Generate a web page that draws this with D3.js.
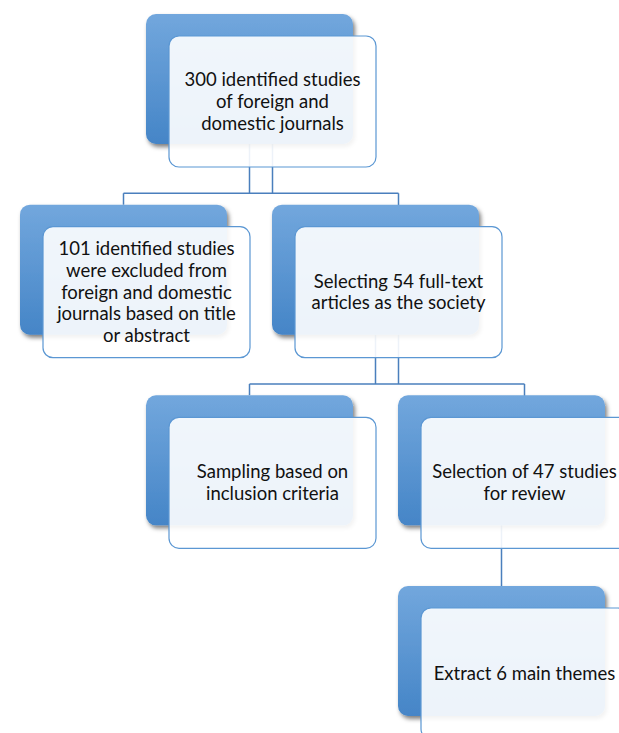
<!DOCTYPE html>
<html>
<head>
<meta charset="utf-8">
<script src="https://cdn.jsdelivr.net/npm/d3@7"></script>
<style>
  body { margin: 0; background: #fff; }
  text { font-family: Lato, "Open Sans", sans-serif; }
</style>
</head>
<body>
<div id="chart"></div>
<script>
// node labels, already broken into lines as in the figure
var labels = [
  ["300 identified studies", "of foreign and", "domestic journals"],
  ["101 identified studies", "were excluded from", "foreign and domestic", "journals based on title", "or abstract"],
  ["Selecting 54 full-text", "articles as the society"],
  ["Sampling based on", "inclusion criteria"],
  ["Selection of 47 studies", "for review"],
  ["Extract 6 main themes"]
];
// tree layout: level (row), column slot, parent index
var levels = [0, 1, 1, 2, 2, 3];
var columns = [1, 0, 2, 1, 3, 3];
var parents = [-1, 0, 0, 2, 2, 4];

var width = 619, height = 733;
var boxW = 207, boxH = 130, offX = 23, offY = 22;

// column slot -> left edge of the back box, level -> top edge of the back box
var x = d3.scaleLinear().domain([0, 3]).range([20, 398]);
var y = d3.scaleLinear().domain([0, 3]).range([14, 586]);

var svg = d3.select("#chart").append("svg")
    .attr("width", width)
    .attr("height", height);

var defs = svg.append("defs");
var grad = defs.append("linearGradient")
    .attr("id", "blueGrad")
    .attr("x1", 0).attr("y1", 0).attr("x2", 0).attr("y2", 1);
grad.append("stop").attr("offset", "0%").attr("stop-color", "#72a7dd");
grad.append("stop").attr("offset", "100%").attr("stop-color", "#4585c7");

var shadow = defs.append("filter").attr("id", "shadow")
    .attr("x", "-10%").attr("y", "-10%").attr("width", "130%").attr("height", "130%");
shadow.append("feDropShadow")
    .attr("dx", 2).attr("dy", 3).attr("stdDeviation", 2.2)
    .attr("flood-color", "#000").attr("flood-opacity", 0.5);

var nodes = labels.map(function (l, i) {
  return { id: i, lines: l, level: levels[i], col: columns[i], parent: parents[i] };
});

function backX(d) { return x(d.col); }
function backY(d) { return y(d.level); }

// connectors (drawn first so boxes sit on top)
var links = svg.append("g")
    .attr("fill", "none")
    .attr("stroke", "#4a7fbd")
    .attr("stroke-width", 1.5);

nodes.forEach(function (p) {
  var kids = nodes.filter(function (n) { return n.parent === p.id; });
  if (!kids.length) return;
  var parentBottom = backY(p) + offY + boxH;
  var busY = (parentBottom + backY(kids[0])) / 2 + 8;
  var busX = [];
  kids.forEach(function (k, i) {
    // first child connects back layer to back layer, last child front layer to front layer
    var useFront = kids.length > 1 && i === kids.length - 1;
    var px = backX(p) + boxW / 2 + (useFront ? offX : 0);
    var kx = backX(k) + boxW / 2 + (useFront ? offX : 0);
    var ky = backY(k) + (useFront ? offY : 0);
    busX.push(px, kx);
    var path = d3.path();
    path.moveTo(px, backY(p) + boxH);
    path.lineTo(px, busY);
    path.moveTo(kx, busY);
    path.lineTo(kx, ky);
    links.append("path").attr("d", path.toString());
  });
  links.append("line")
      .attr("x1", d3.min(busX)).attr("x2", d3.max(busX))
      .attr("y1", busY).attr("y2", busY);
});

var g = svg.selectAll("g.node")
  .data(nodes)
  .join("g")
    .attr("class", "node");

// blue back box
g.append("rect")
    .attr("x", backX)
    .attr("y", backY)
    .attr("width", boxW)
    .attr("height", boxH)
    .attr("rx", 10)
    .attr("fill", "url(#blueGrad)")
    .attr("filter", "url(#shadow)");

// translucent front box
g.append("rect")
    .attr("x", function (d) { return backX(d) + offX; })
    .attr("y", function (d) { return backY(d) + offY; })
    .attr("width", boxW)
    .attr("height", boxH + 1)
    .attr("rx", 10)
    .attr("fill", "#ffffff")
    .attr("fill-opacity", 0.9)
    .attr("stroke", "#5b97d3")
    .attr("stroke-width", 1.2);

var lineH = 21.7;
g.append("text")
    .attr("text-anchor", "middle")
    .attr("font-size", 18.5)
    .attr("fill", "#111")
    .each(function (d) {
      var cx = backX(d) + offX + boxW / 2;
      var cy = backY(d) + offY + (boxH + 1) / 2;
      var n = d.lines.length;
      d3.select(this).selectAll("tspan")
        .data(d.lines)
        .join("tspan")
          .attr("x", cx)
          .attr("y", function (t, i) { return cy + (i - (n - 1) / 2) * lineH; })
          .attr("dy", "0.35em")
          .text(function (t) { return t; });
    });
</script>
</body>
</html>
